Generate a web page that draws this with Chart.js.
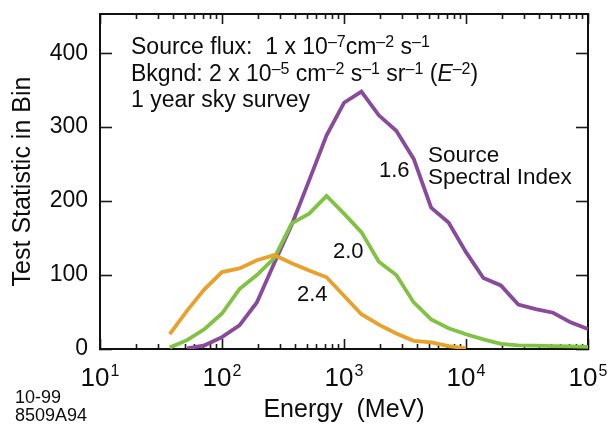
<!DOCTYPE html>
<html><head><meta charset="utf-8">
<script src="https://cdn.jsdelivr.net/npm/chart.js@4.4.1/dist/chart.umd.min.js"></script>
<style>html,body{margin:0;padding:0;background:#fff}#wrap{width:616px;height:426px}</style>
</head><body><div id="wrap"><canvas id="c" width="616" height="426"></canvas></div>
<script>
// Energy bin centres (MeV), 7 bins per decade
const energies = [37.3, 51.8, 72.0, 100, 139, 193, 268, 373, 518, 720, 1000, 1389, 1931, 2683, 3728, 5179, 7197, 10000, 13895, 19307, 26827, 37276, 51795, 71969, 100000];
// Test statistic per bin, for each source spectral index
const index16 = [null, 1, 5, 16, 32, 63, 116, 168, 228, 289, 333, 348, 316, 295, 257, 191, 171, 131, 96, 86, 60, 54, 49, 36, 27];
const index20 = [2, 12, 27, 48, 81, 100, 123, 170, 183, 207, 183, 158, 118, 100, 63, 40, 28, 20, 13, 7, 5, 4.5, 4, 3.5, 3];
const index24 = [20, 52, 81, 104, 109, 120, 127, 116, 106, 97, 72, 47, 33, 21, 11, 9, 4, 1, null, null, null, null, null, null, null];
// Axis ticks
const yTicks = [0, 100, 200, 300, 400];
const xMajorTicks = [10, 100, 1000, 10000, 100000];
const xTickExponents = [1, 2, 3, 4, 5];
const xMinorTicks = [];
for (const d of [10, 100, 1000, 10000]) for (const m of [2,3,4,5,6,7,8,9]) xMinorTicks.push(m * d);

const FONT = "'Liberation Sans', Arial, Helvetica, sans-serif";
const INK = '#0d0d0d';

function setTicks(list) { return s => { s.ticks = list.map(v => ({ value: v })); }; }
function fitTo(w, h) {
  return s => {
    if (w !== null) s.width = w;
    if (h !== null) s.height = h;
    s.paddingTop = 0; s.paddingBottom = 0; s.paddingLeft = 0; s.paddingRight = 0;
  };
}
const gridBase = { drawOnChartArea: false, drawTicks: true, tickWidth: 1.6, tickColor: '#1a1a1a', color: '#1a1a1a', lineWidth: 1 };
const borderOn = { display: true, width: 2, color: '#111' };
const borderOff = { display: false };

function richText(ctx, x, y, segs, size, supSize, raise) {
  ctx.textAlign = 'left';
  ctx.textBaseline = 'alphabetic';
  for (const s of segs) {
    ctx.font = (s.it ? 'italic ' : '') + (s.sup ? supSize : size) + 'px ' + FONT;
    ctx.fillText(s.t, x, s.sup ? y - raise : y);
    x += ctx.measureText(s.t).width;
  }
}

const textPlugin = {
  id: 'textPlugin',
  afterDraw(chart) {
    const ctx = chart.ctx;
    ctx.save();
    ctx.fillStyle = INK;
    // x tick labels 10^n
    const xs = chart.scales.x;
    xTickExponents.forEach((e, i) => {
      const px = xs.getPixelForValue(xMajorTicks[i]);
      ctx.font = '26px ' + FONT;
      const wb = ctx.measureText('10').width;
      ctx.font = '16px ' + FONT;
      const ws = ctx.measureText(String(e)).width;
      const left = px - (wb + 1 + ws) / 2;
      ctx.textAlign = 'left'; ctx.textBaseline = 'alphabetic';
      ctx.font = '26px ' + FONT;
      ctx.fillText('10', left, 386);
      ctx.font = '16px ' + FONT;
      ctx.fillText(String(e), left + wb + 1, 376);
    });
    // annotation block
    richText(ctx, 131, 54, [
      {t: 'Source flux:  1 x 10'}, {t: '\u20137', sup: 1}, {t: 'cm'}, {t: '\u20132', sup: 1}, {t: ' s'}, {t: '\u20131', sup: 1}
    ], 23, 16, 7);
    richText(ctx, 131, 81, [
      {t: 'Bkgnd: 2 x 10'}, {t: '\u20135', sup: 1}, {t: ' cm'}, {t: '\u20132', sup: 1}, {t: ' s'}, {t: '\u20131', sup: 1},
      {t: ' sr'}, {t: '\u20131', sup: 1}, {t: ' ('}, {t: 'E', it: 1}, {t: '\u20132', sup: 1}, {t: ')'}
    ], 23, 16, 7);
    richText(ctx, 131, 107, [{t: '1 year sky survey'}], 23, 16, 7);
    // curve labels
    ctx.font = '22px ' + FONT;
    ctx.fillText('1.6', 379, 177);
    ctx.fillText('2.0', 333, 258);
    ctx.fillText('2.4', 297, 301);
    ctx.font = '22.5px ' + FONT;
    ctx.fillText('Source', 428, 162);
    ctx.fillText('Spectral Index', 428, 184);
    // figure id
    ctx.font = '18px ' + FONT;
    ctx.fillText('10-99', 15, 403);
    ctx.fillText('8509A94', 15, 421);
    ctx.restore();
  }
};

const mk = (vals) => energies.map((e, i) => ({ x: e, y: vals[i] }));

new Chart(document.getElementById('c'), {
  type: 'line',
  data: {
    datasets: [
      { label: '2.4', data: mk(index24), borderColor: '#E9A12B', borderWidth: 3.8, pointRadius: 0, tension: 0, fill: false },
      { label: '2.0', data: mk(index20), borderColor: '#80C342', borderWidth: 3.8, pointRadius: 0, tension: 0, fill: false },
      { label: '1.6', data: mk(index16), borderColor: '#8A4A9B', borderWidth: 3.8, pointRadius: 0, tension: 0, fill: false }
    ]
  },
  options: {
    responsive: false,
    devicePixelRatio: 1,
    animation: false,
    layout: { padding: { top: 14, right: 28, bottom: 0, left: 0 } },
    plugins: { legend: { display: false }, tooltip: { enabled: false } },
    scales: {
      x: {
        type: 'logarithmic', position: 'bottom', min: 10, max: 100000, weight: 1,
        afterBuildTicks: setTicks(xMajorTicks), afterFit: fitTo(null, 77),
        grid: { ...gridBase, tickLength: -10 }, border: borderOn, ticks: { display: false },
        title: { display: true, text: 'Energy  (MeV)', color: INK, font: { family: FONT, size: 25 }, padding: { top: 0, bottom: 1 } }
      },
      xMinor: {
        type: 'logarithmic', position: 'bottom', min: 10, max: 100000, weight: 0,
        afterBuildTicks: setTicks(xMinorTicks), afterFit: fitTo(null, 0),
        grid: { ...gridBase, tickLength: -5 }, border: borderOff, ticks: { display: false }
      },
      xTop: {
        type: 'logarithmic', position: 'top', min: 10, max: 100000,
        afterBuildTicks: setTicks(xMajorTicks), afterFit: fitTo(null, 0),
        grid: { ...gridBase, tickLength: -10 }, border: borderOn, ticks: { display: false }
      },
      xTopMinor: {
        type: 'logarithmic', position: 'top', min: 10, max: 100000,
        afterBuildTicks: setTicks(xMinorTicks), afterFit: fitTo(null, 0),
        grid: { ...gridBase, tickLength: -5 }, border: borderOff, ticks: { display: false }
      },
      y: {
        type: 'linear', position: 'left', min: 0, max: 453,
        afterBuildTicks: setTicks(yTicks), afterFit: fitTo(100, null),
        grid: { ...gridBase, tickLength: -12 }, border: borderOn,
        ticks: { padding: 24, color: INK, font: { family: FONT, size: 23 } },
        title: { display: true, text: 'Test Statistic in Bin', color: INK, font: { family: FONT, size: 25 }, padding: { top: 8, bottom: 0 } }
      },
      yR: {
        type: 'linear', position: 'right', min: 0, max: 453,
        afterBuildTicks: setTicks(yTicks), afterFit: fitTo(0, null),
        grid: { ...gridBase, tickLength: -12 }, border: borderOn, ticks: { display: false }
      }
    }
  },
  plugins: [textPlugin]
});
</script>
</body></html>
